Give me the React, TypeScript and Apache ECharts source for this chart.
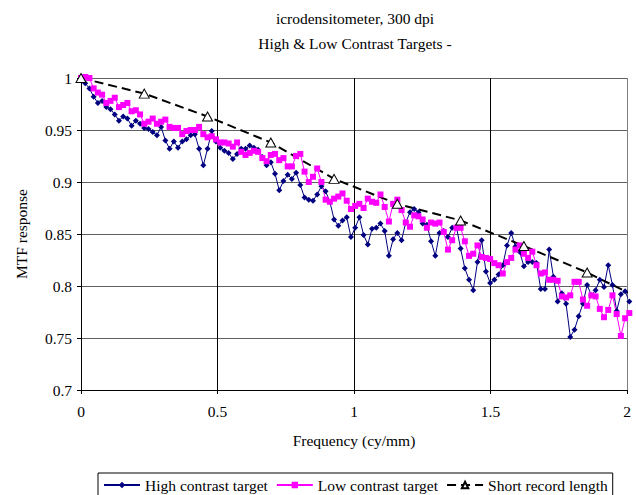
import React, { useEffect, useRef } from "react";
import * as echarts from "echarts";

const FREQ_STEP = 0.01545;

const HIGH = [
  1.0, 0.995, 0.99, 0.982, 0.976, 0.978, 0.972, 0.97, 0.965, 0.959,
  0.963, 0.961, 0.954, 0.959, 0.956, 0.952, 0.951, 0.948, 0.945, 0.953,
  0.94, 0.932, 0.939, 0.933, 0.939, 0.941, 0.945, 0.946, 0.932, 0.916,
  0.932, 0.949, 0.939, 0.933, 0.93, 0.928, 0.922, 0.927, 0.932, 0.932,
  0.935, 0.933, 0.931, 0.924, 0.916, 0.919, 0.908, 0.892, 0.901, 0.907,
  0.903, 0.909, 0.897, 0.885, 0.883, 0.882, 0.888, 0.896, 0.891, 0.881,
  0.864, 0.858, 0.863, 0.866, 0.847, 0.856, 0.866, 0.849, 0.84, 0.855,
  0.856, 0.86, 0.853, 0.829, 0.845, 0.851, 0.844, 0.861, 0.871, 0.874,
  0.871, 0.86, 0.859, 0.843, 0.829, 0.851, 0.853, 0.847, 0.856, 0.857,
  0.836, 0.817, 0.806, 0.796, 0.823, 0.844, 0.814, 0.803, 0.806, 0.811,
  0.82, 0.839, 0.851, 0.838, 0.833, 0.819, 0.823, 0.823, 0.822, 0.797,
  0.797, 0.835, 0.809, 0.785, 0.793, 0.783, 0.751, 0.758, 0.771, 0.783,
  0.801, 0.791, 0.796, 0.806, 0.799, 0.82, 0.801, 0.776, 0.792, 0.795,
  0.785,
];

const LOW = [
  1.0, 1.001, 1.0, 0.99, 0.986, 0.984, 0.976, 0.978, 0.981, 0.972,
  0.974, 0.976, 0.968, 0.969, 0.965, 0.956, 0.958, 0.961, 0.956, 0.958,
  0.96, 0.953, 0.952, 0.952, 0.946, 0.949, 0.95, 0.95, 0.953, 0.946,
  0.943, 0.944, 0.941, 0.938, 0.938, 0.937, 0.934, 0.938, 0.929, 0.926,
  0.928, 0.93, 0.929, 0.923, 0.92, 0.926, 0.927, 0.921, 0.923, 0.915,
  0.915, 0.925, 0.927, 0.91, 0.9, 0.905, 0.913, 0.9, 0.883, 0.881,
  0.884, 0.886, 0.889, 0.882, 0.874, 0.877, 0.879, 0.875, 0.884, 0.881,
  0.88, 0.888, 0.876, 0.862, 0.879, 0.883, 0.873, 0.861, 0.857, 0.868,
  0.867, 0.864, 0.856, 0.861, 0.86, 0.861, 0.852, 0.835, 0.844, 0.856,
  0.856, 0.843, 0.829, 0.831, 0.839, 0.828, 0.827, 0.826, 0.822, 0.82,
  0.812, 0.823, 0.827, 0.835, 0.839, 0.831, 0.827, 0.833, 0.82, 0.812,
  0.813, 0.806, 0.806, 0.805, 0.79, 0.789, 0.791, 0.804, 0.804, 0.787,
  0.781, 0.791, 0.79, 0.778, 0.77, 0.777, 0.791, 0.773, 0.752, 0.769,
  0.774,
];

const SHORT_EVERY = 15;
const SHORT = [1.0, 0.985, 0.963, 0.938, 0.903, 0.879, 0.863, 0.8385, 0.813, 0.783];

const TITLE_LINES = ["icrodensitometer, 300 dpi", "High & Low Contrast Targets -"];
const SERIES_NAMES = ["High contrast target", "Low contrast target", "Short record length"];

const FONT = "'Liberation Serif', 'Times New Roman', serif";
const FS = 15.5;

export default function App() {
  const ref = useRef<HTMLDivElement>(null);
  useEffect(() => {
    if (!ref.current) return;
    const chart = echarts.init(ref.current, null, { renderer: "svg" });
    const high = HIGH.map((v, i) => [i * FREQ_STEP, v]);
    const low = LOW.map((v, i) => [i * FREQ_STEP, v]);
    const short = SHORT.map((v, i) => [i * SHORT_EVERY * FREQ_STEP, v]);
    chart.setOption({
      animation: false,
      backgroundColor: "#ffffff",
      textStyle: { fontFamily: FONT },
      graphic: TITLE_LINES.map((t, i) => ({
        type: "text",
        x: 355,
        y: 18 + i * 25,
        style: {
          text: t,
          align: "center",
          verticalAlign: "middle",
          fontFamily: FONT,
          fontSize: FS,
          fill: "#000",
        },
      })),
      grid: { left: 81, right: 9, top: 78, bottom: 105, containLabel: false },
      xAxis: {
        type: "value",
        min: 0,
        max: 2,
        interval: 0.5,
        name: "Frequency (cy/mm)",
        nameLocation: "middle",
        nameGap: 42,
        nameTextStyle: { fontFamily: FONT, fontSize: FS, color: "#000" },
        axisLine: { show: true, onZero: false, lineStyle: { color: "#000", width: 1 } },
        axisTick: { show: true, length: 4, lineStyle: { color: "#000" } },
        axisLabel: { margin: 13, fontFamily: FONT, fontSize: FS, color: "#000" },
        splitLine: {
          show: true,
          lineStyle: { color: ["#000", "#000", "#000", "#000", "#808080"], width: 1 },
        },
      },
      yAxis: {
        type: "value",
        min: 0.7,
        max: 1,
        interval: 0.05,
        name: "MTF response",
        nameLocation: "middle",
        nameRotate: 90,
        nameGap: 52,
        nameTextStyle: { fontFamily: FONT, fontSize: FS, color: "#000" },
        axisLine: { show: true, lineStyle: { color: "#000", width: 1 } },
        axisTick: { show: true, length: 4, lineStyle: { color: "#000" } },
        axisLabel: { margin: 9, fontFamily: FONT, fontSize: FS, color: "#000" },
        splitLine: { show: true, lineStyle: { color: "#606060", width: 1 } },
      },
      legend: {
        left: 98,
        top: 473,
        itemWidth: 36,
        itemHeight: 8,
        itemGap: 8,
        padding: [4, 5, 4, 5],
        borderColor: "#000",
        borderWidth: 1,
        textStyle: { fontFamily: FONT, fontSize: FS, color: "#000" },
        data: SERIES_NAMES,
      },
      series: [
        {
          name: SERIES_NAMES[0],
          type: "line",
          data: high,
          clip: false,
          symbol: "diamond",
          symbolSize: 6,
          lineStyle: { color: "#000080", width: 1 },
          itemStyle: { color: "#000080" },
        },
        {
          name: SERIES_NAMES[1],
          type: "line",
          data: low,
          clip: false,
          symbol: "rect",
          symbolSize: 6,
          lineStyle: { color: "#ff00ff", width: 1 },
          itemStyle: { color: "#ff00ff" },
        },
        {
          name: SERIES_NAMES[2],
          type: "line",
          data: short,
          clip: false,
          symbol: "triangle",
          symbolSize: [10, 9],
          lineStyle: { color: "#000", width: 2, type: [9, 5] },
          itemStyle: { color: "#fff", borderColor: "#000", borderWidth: 1 },
        },
      ],
    });
    return () => chart.dispose();
  }, []);
  return (
    <div
      ref={ref}
      style={{ position: "fixed", left: 0, top: 0, width: 636, height: 495, background: "#fff" }}
    />
  );
}
